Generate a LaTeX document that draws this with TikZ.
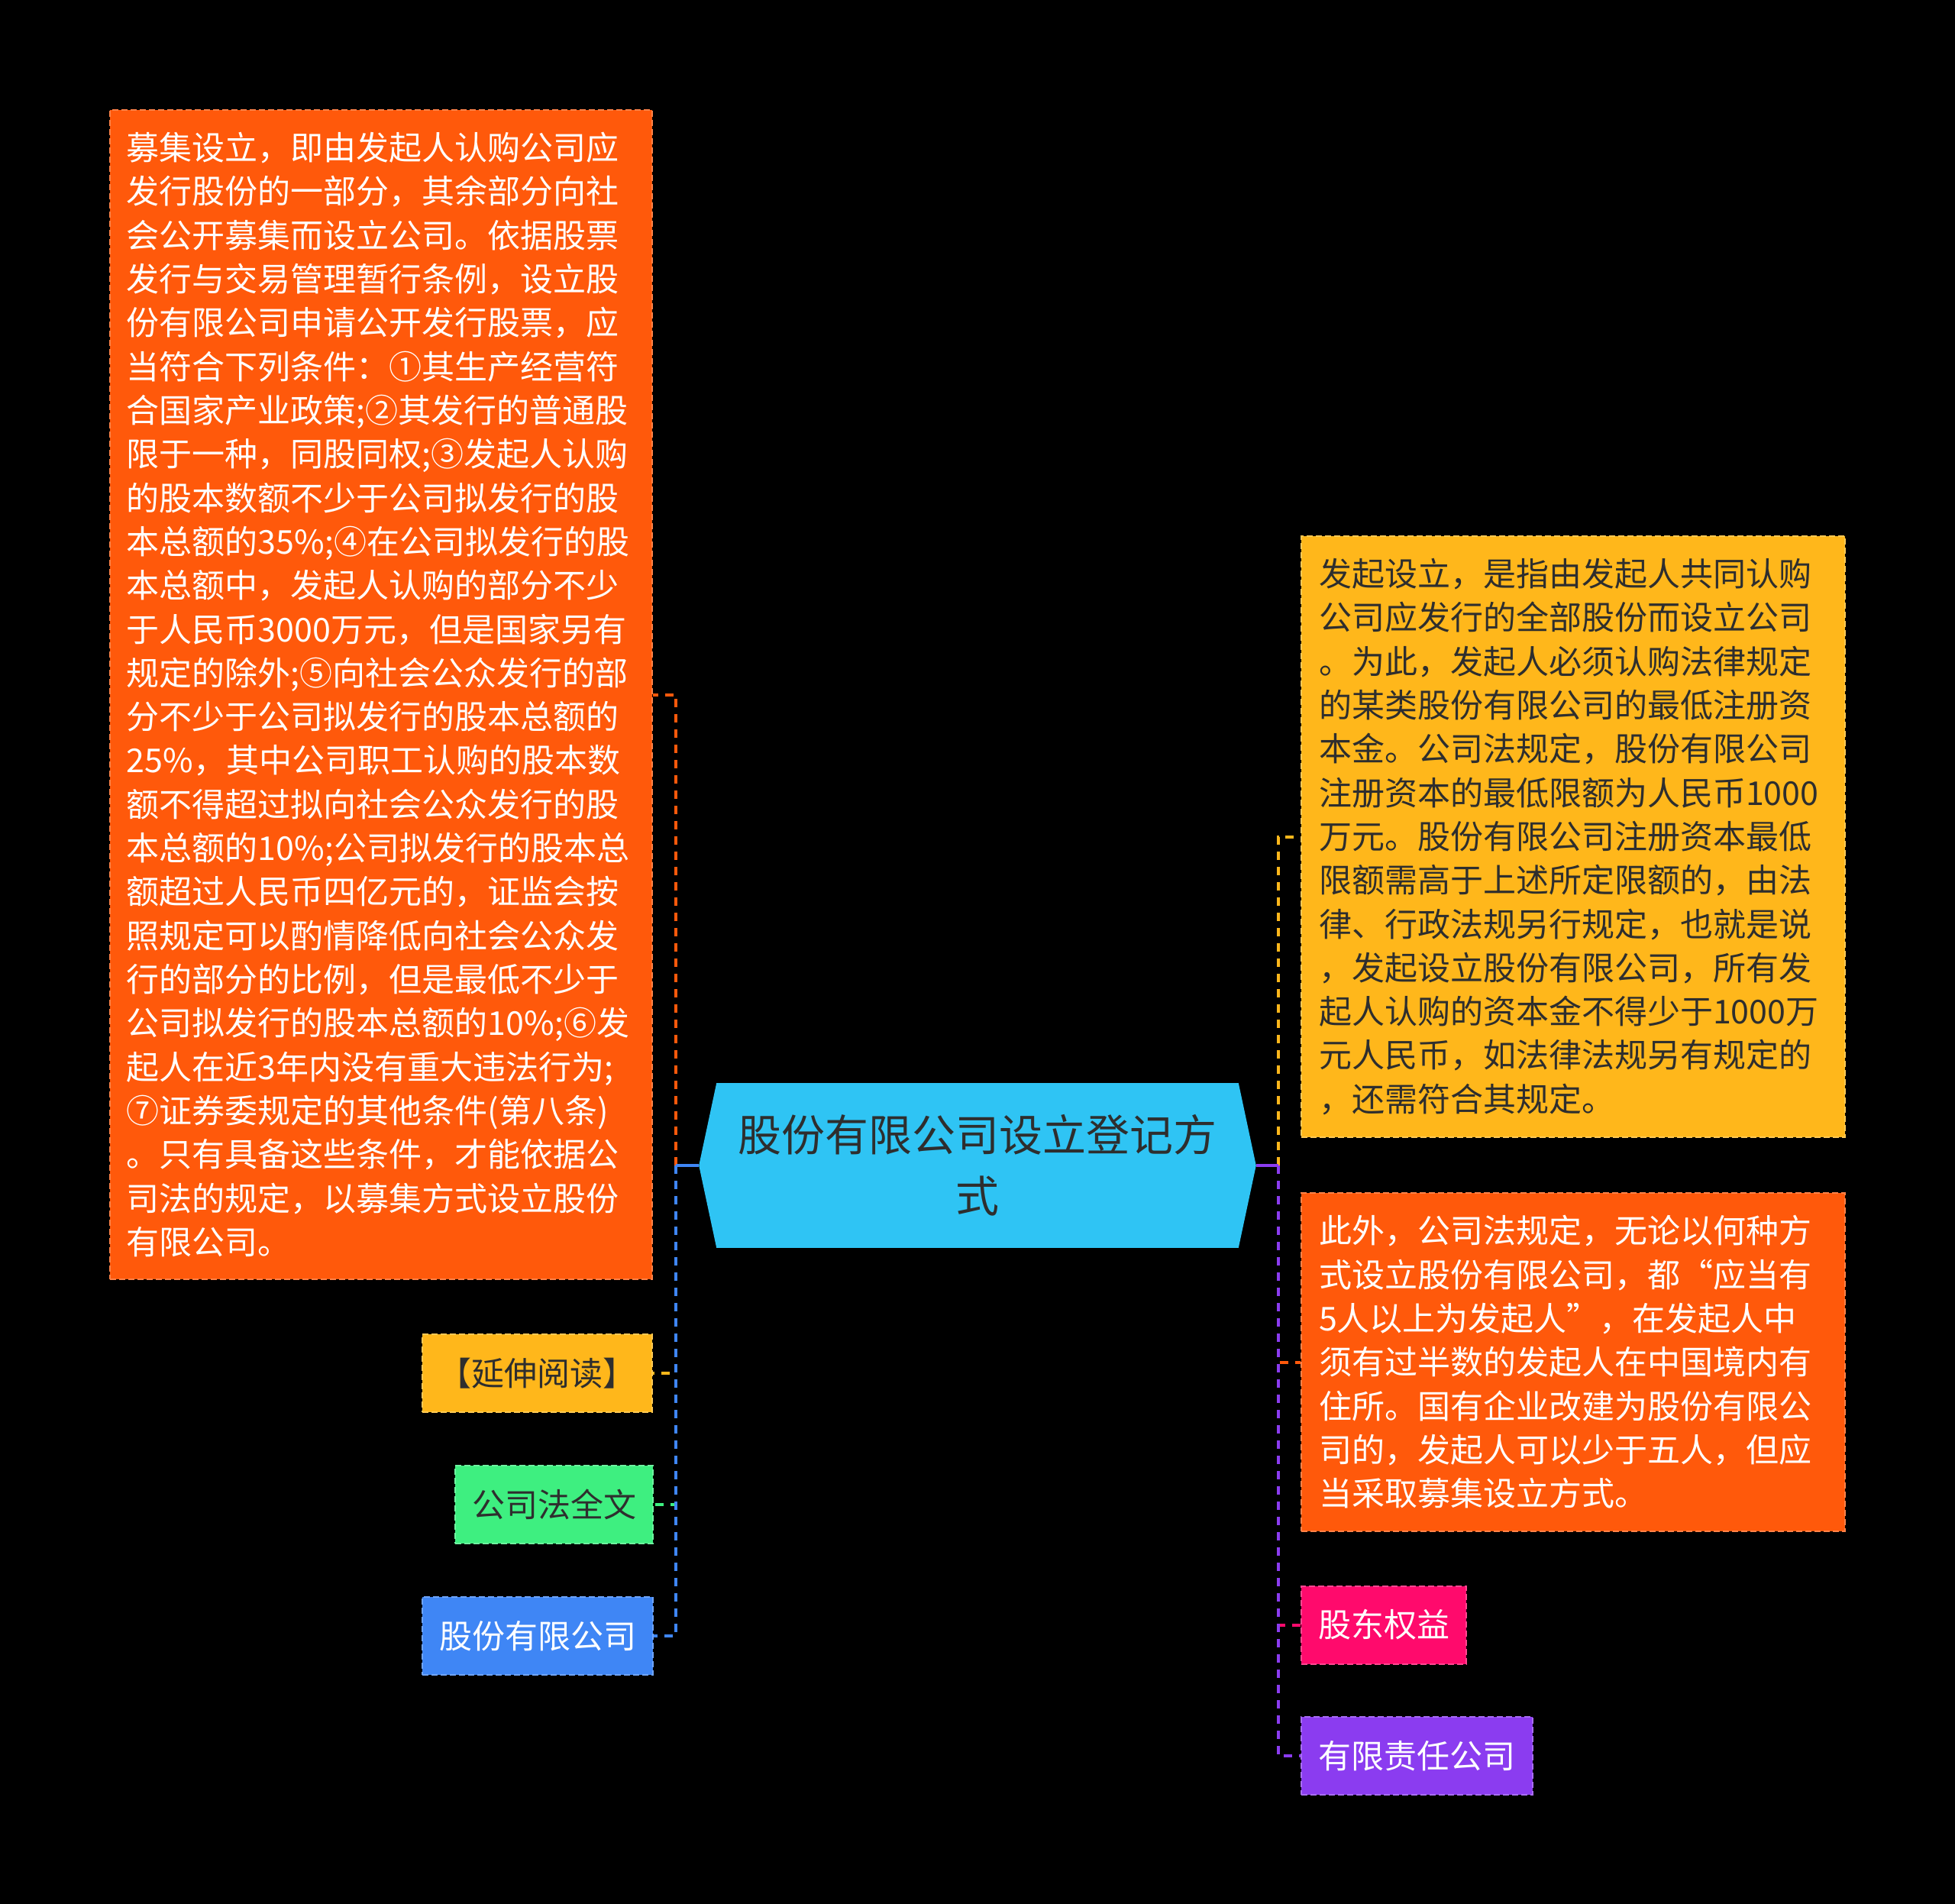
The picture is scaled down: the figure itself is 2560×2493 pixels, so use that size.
\documentclass[tikz,border=0pt]{standalone}
\usepackage{fontspec}
\setmainfont{Noto Sans CJK SC}
\usetikzlibrary{backgrounds}
\definecolor{corange}{HTML}{FF590B}
\definecolor{cyellow}{HTML}{FFB71B}
\definecolor{cgreen}{HTML}{3EEF80}
\definecolor{cblue}{HTML}{3F86F5}
\definecolor{cpink}{HTML}{FF0A6C}
\definecolor{cpurple}{HTML}{8B3CF0}
\definecolor{ccyan}{HTML}{2FC4F4}
\definecolor{cdark}{HTML}{2E2E2E}
\tikzset{
  x=0.25pt, y=-0.25pt,
  box/.style={rectangle, inner sep=0pt, fill=#1, draw=#1!75!white, line width=0.5pt,
    dash pattern=on 2pt off 1pt,
    font=\fontsize{10.75pt}{14.33pt}\selectfont},
  para/.style={align=left, text width=166.5pt},
  tag/.style={align=center, minimum height=25.5pt},
  conn/.style={line width=1pt, dash pattern=on 2.75pt off 2.25pt},
  trunk/.style={line width=1pt},
}
\begin{document}
\begin{tikzpicture}
\begin{scope}[on background layer]
  \fill[black] (0,0) rectangle (2560,2493);
\end{scope}
\useasboundingbox (0,0) rectangle (2560,2493);

% central node
\node[inner sep=0pt, minimum width=182pt, minimum height=53.5pt, align=center,
  text=cdark, font=\fontsize{14.25pt}{20pt}\selectfont] (hub) at (1280,1526)
  {股份有限公司设立登记方\\式};
\begin{scope}[on background layer]
  \fill[ccyan] (hub.west) -- ([xshift=5.75pt]hub.north west) -- ([xshift=-5.75pt]hub.north east)
    -- (hub.east) -- ([xshift=-5.75pt]hub.south east) -- ([xshift=5.75pt]hub.south west) -- cycle;
\end{scope}

% left children
\node[box=corange, para, text=white, minimum width=177.5pt, minimum height=382.75pt] (big) at (499,909.5)
{募集设立，即由发起人认购公司应\\
发行股份的一部分，其余部分向社\\
会公开募集而设立公司。依据股票\\
发行与交易管理暂行条例，设立股\\
份有限公司申请公开发行股票，应\\
当符合下列条件：①其生产经营符\\
合国家产业政策;②其发行的普通股\\
限于一种，同股同权;③发起人认购\\
的股本数额不少于公司拟发行的股\\
本总额的35\%;④在公司拟发行的股\\
本总额中，发起人认购的部分不少\\
于人民币3000万元，但是国家另有\\
规定的除外;⑤向社会公众发行的部\\
分不少于公司拟发行的股本总额的\\
25\%，其中公司职工认购的股本数\\
额不得超过拟向社会公众发行的股\\
本总额的10\%;公司拟发行的股本总\\
额超过人民币四亿元的，证监会按\\
照规定可以酌情降低向社会公众发\\
行的部分的比例，但是最低不少于\\
公司拟发行的股本总额的10\%;⑥发\\
起人在近3年内没有重大违法行为;\\
⑦证券委规定的其他条件(第八条)\\
。只有具备这些条件，才能依据公\\
司法的规定，以募集方式设立股份\\
有限公司。};

\node[box=cyellow, tag, text=cdark, minimum width=75.25pt] (yan) at (703.5,1798) {【延伸阅读】};
\node[box=cgreen, tag, text=cdark, minimum width=64.75pt] (gsf) at (725.5,1970) {公司法全文};
\node[box=cblue, tag, text=white, minimum width=75.5pt] (gfyx) at (704,2142) {股份有限公司};

% right children
\node[box=cyellow, para, text=cdark, minimum width=178pt, minimum height=196.75pt] (fq) at (2060,1095.5)
{发起设立，是指由发起人共同认购\\
公司应发行的全部股份而设立公司\\
。为此，发起人必须认购法律规定\\
的某类股份有限公司的最低注册资\\
本金。公司法规定，股份有限公司\\
注册资本的最低限额为人民币1000\\
万元。股份有限公司注册资本最低\\
限额需高于上述所定限额的，由法\\
律、行政法规另行规定，也就是说\\
，发起设立股份有限公司，所有发\\
起人认购的资本金不得少于1000万\\
元人民币，如法律法规另有规定的\\
，还需符合其规定。};

\node[box=corange, para, text=white, minimum width=178pt, minimum height=110.75pt] (cw) at (2060,1783.5)
{此外，公司法规定，无论以何种方\\
式设立股份有限公司，都“应当有\\
5人以上为发起人”，在发起人中\\
须有过半数的发起人在中国境内有\\
住所。国有企业改建为股份有限公\\
司的，发起人可以少于五人，但应\\
当采取募集设立方式。};

\node[box=cpink, tag, text=white, minimum width=54pt] (gdqy) at (1812,2127.5) {股东权益};
\node[box=cpurple, tag, text=white, minimum width=75.75pt] (yxzr) at (1855.5,2299) {有限责任公司};

% junctions
\coordinate (lj) at ([xshift=-7.5pt]hub.west);
\coordinate (rj) at ([xshift=7.25pt]hub.east);

% left connectors
\draw[conn, corange] (lj) |- (big.east);
\draw[conn, cyellow] (lj) |- (yan.east);
\draw[conn, cgreen] (lj) |- (gsf.east);
\draw[conn, cblue] (lj) |- (gfyx.east);
\draw[trunk, cblue] (hub.west) -- (lj);

% right connectors
\draw[conn, cyellow] (rj) |- (fq.west);
\draw[conn, corange] (rj) |- (cw.west);
\draw[conn, cpink] (rj) |- (gdqy.west);
\draw[conn, cpurple] (rj) |- (yxzr.west);
\draw[trunk, cpurple] (hub.east) -- (rj);
\end{tikzpicture}
\end{document}
